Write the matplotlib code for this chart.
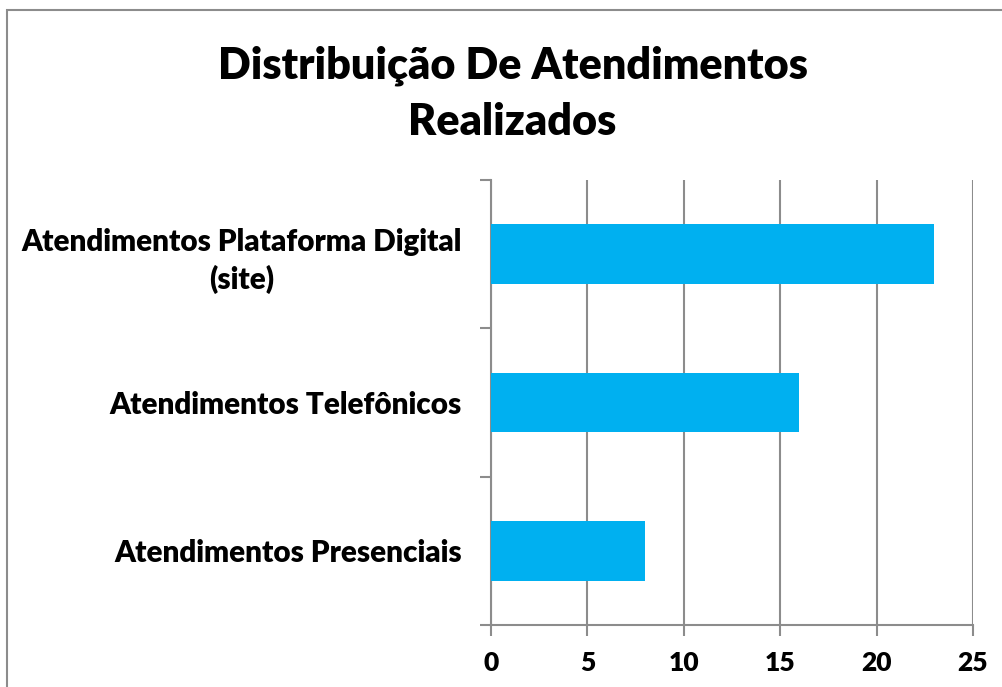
import matplotlib
matplotlib.use("Agg")
import matplotlib.pyplot as plt
from matplotlib.patches import Rectangle

categories = ['Atendimentos Presenciais', 'Atendimentos Telefônicos',
              'Atendimentos Plataforma Digital\n(site)']
values = [8, 16, 23]
xticks = [0, 5, 10, 15, 20, 25]

plt.rcParams['font.family'] = ['Lato', 'DejaVu Sans']
plt.rcParams['font.weight'] = 'bold'

fig = plt.figure(figsize=(10.03, 6.87), dpi=100)
ax = fig.add_axes([0.4895, 0.0902, 0.4806, 0.6478])

ypos = list(range(len(categories)))
ax.barh(ypos, values, height=0.4, color='#00B0F0', zorder=3)

ax.set_xlim(0, 25)
ax.set_ylim(-0.5, 2.5)
ax.set_xticks(xticks)
ax.set_xticklabels([str(t) for t in xticks], fontsize=19, fontweight='heavy')
ax.set_yticks([-0.5, 0.5, 1.5, 2.5])
ax.set_yticklabels([])
ax.set_yticks(ypos, minor=True)
ax.set_yticklabels(categories, minor=True, fontsize=21.3, fontweight='heavy',
                   multialignment='center', linespacing=1.35)
ax.tick_params(axis='y', which='minor', length=0, pad=21)
ax.tick_params(axis='y', which='major', length=8, width=1.5, color='#8c8c8c')
ax.tick_params(axis='x', length=8, width=1.5, color='#8c8c8c', pad=11)

ax.grid(axis='x', color='#8c8c8c', linewidth=1.5, zorder=0)
for s in ['top', 'right']:
    ax.spines[s].set_visible(False)
for s in ['left', 'bottom']:
    ax.spines[s].set_color('#8c8c8c')
    ax.spines[s].set_linewidth(1.5)

fig.text(0.511, 0.864, 'Distribuição De Atendimentos\nRealizados', ha='center',
         va='center', fontsize=31.1, fontweight='heavy', linespacing=1.48)

fig.patches.append(Rectangle((7 / 1003, -0.1), 1.2, 1 - 10 / 687 + 0.1,
                             transform=fig.transFigure, fill=False,
                             edgecolor='#8c8c8c', linewidth=1.5))

fig.savefig('out.png', dpi=100)
